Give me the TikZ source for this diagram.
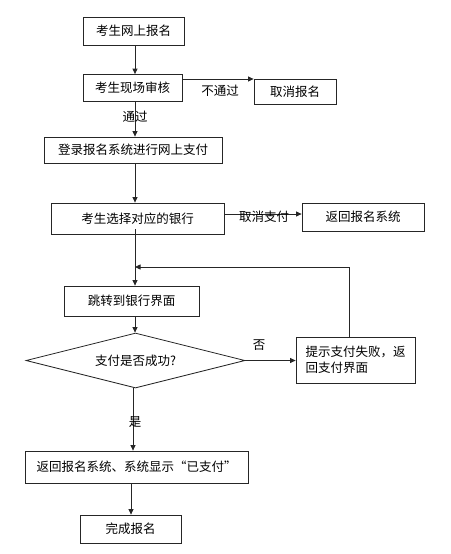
\documentclass[tikz,border=0pt]{standalone}
\usepackage{fontspec}
\setmainfont{Noto Sans CJK SC}
\usetikzlibrary{shapes.geometric,arrows.meta}
\begin{document}
\begin{tikzpicture}[x=1pt,y=-1pt,
  box/.style={draw=black!85, line width=0.8pt, rectangle, inner sep=0pt, font=\fontsize{12.5}{16}\selectfont},
  dia/.style={draw=black!85, line width=0.8pt, diamond, aspect=4, inner sep=0pt, font=\fontsize{12.5}{16}\selectfont},
  arr/.style={draw=black!85, line width=0.8pt, -{Triangle[length=5.5pt,width=5pt]}},
  ln/.style={draw=black!85, line width=0.8pt},
  lbl/.style={font=\fontsize{12.5}{16}\selectfont, inner sep=0pt}]
\useasboundingbox (0,0) rectangle (450,554);
\node[box, minimum width=101pt, minimum height=28pt] (b1) at (133.5,31) {考生网上报名};
\node[box, minimum width=99pt, minimum height=27pt] (b2) at (132.5,88) {考生现场审核};
\node[box, minimum width=82pt, minimum height=25pt] (c1) at (295,91.5) {取消报名};
\node[box, minimum width=178pt, minimum height=26pt] (b3) at (133,150) {登录报名系统进行网上支付};
\node[box, minimum width=173pt, minimum height=31pt] (b4) at (137.5,218.5) {考生选择对应的银行};
\node[box, minimum width=122pt, minimum height=28pt] (c2) at (363,217) {返回报名系统};
\node[box, minimum width=135pt, minimum height=30pt] (b6) at (131.5,301) {跳转到银行界面};
\node[dia, minimum width=219pt, minimum height=55pt] (d) at (135.5,360.5) {支付是否成功?};
\node[box, minimum width=119pt, minimum height=46pt, align=left] (f) at (355.5,360) {提示支付失败，返\\回支付界面};
\node[box, minimum width=223pt, minimum height=32pt] (b7) at (136.5,467) {返回报名系统、系统显示“已支付”};
\node[box, minimum width=101pt, minimum height=28pt] (b8) at (130.5,529) {完成报名};
\coordinate (sp) at (135,0);
\coordinate (fb) at (135,267);
% connectors
\draw[arr] (b1.south -| sp) -- (b2.north -| sp);
\draw[arr] ([yshift=9pt]b2.east) -- ([yshift=9pt]b2.east -| c1.west);
\node[lbl] (l1) at (220,91) {不通过};
\draw[arr] (b2.south -| sp) -- (b3.north -| sp);
\node[lbl] (l2) at (135,117) {通过};
\draw[arr] (b3.south -| sp) -- (b4.north -| sp);
\draw[arr] ([yshift=4.5pt]b4.east) -- ([yshift=4.5pt]b4.east -| c2.west);
\node[lbl] (l3) at (264,217) {取消支付};
\draw[arr] ([yshift=5pt]b4.south -| sp) -- (b6.north -| sp);
\draw[arr] (b6.south -| sp) -- (d.north -| sp);
\draw[ln] (f.north -| 349,0) -- (349,267) coordinate (fc) -- (137,267);
\draw[arr] (fc) -- (fb);
\draw[arr] (d.east) -- (d.east -| f.west);
\node[lbl] (l4) at (259,345) {否};
\draw[arr] (d.south -| 133,0) -- (b7.north -| 133,0);
\node[lbl] (l5) at (135,422) {是};
\draw[arr] (b7.south -| 131,0) -- (b8.north -| 131,0);
\end{tikzpicture}
\end{document}
